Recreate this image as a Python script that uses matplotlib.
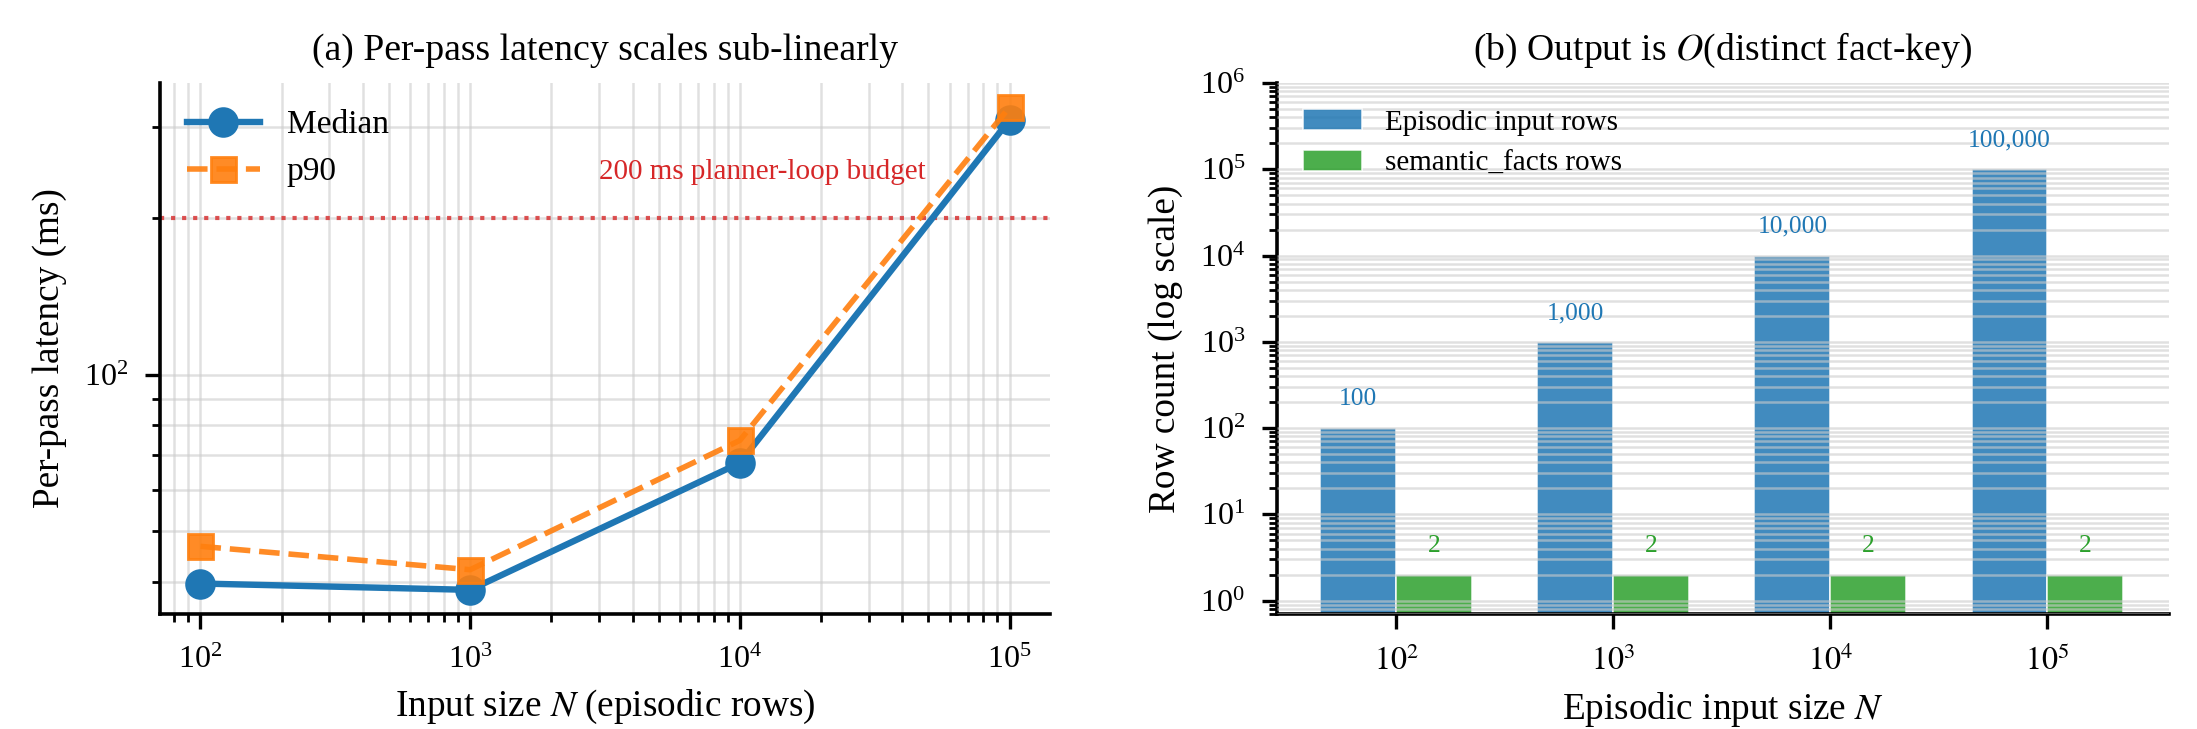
import numpy as np
import matplotlib
matplotlib.use("Agg")
import matplotlib.pyplot as plt
from matplotlib.ticker import LogLocator, NullFormatter

plt.rcParams['font.family'] = ['Liberation Serif', 'DejaVu Serif']
plt.rcParams['mathtext.fontset'] = 'stix'
plt.rcParams['axes.linewidth'] = 1.3

# data
sizes = [100, 1000, 10000, 100000]
median_ms = [39.7, 38.6, 67.7, 309]
p90_ms = [46.8, 42.2, 74.8, 327]
budget_ms = 200

episodic_rows = [100, 1000, 10000, 100000]
fact_rows = [2, 2, 2, 2]
size_labels = [r'$10^{2}$', r'$10^{3}$', r'$10^{4}$', r'$10^{5}$']

blue = '#1f77b4'
orange = '#ff7f0e'
green = '#2ca02c'
red = '#d62728'

fig = plt.figure(figsize=(10.985, 3.645), dpi=200)
ax1 = fig.add_axes([160 / 2197, 1 - 614 / 729, 890 / 2197, 531 / 729])
ax2 = fig.add_axes([1277 / 2197, 1 - 614 / 729, 892 / 2197, 531 / 729])

# (a) latency
ax1.plot(sizes, median_ms, '-o', color=blue, lw=2.3, ms=10, label='Median', zorder=3)
ax1.plot(sizes, p90_ms, '--s', color=orange, lw=2.0, ms=9, alpha=0.9, label='p90', zorder=3)
ax1.axhline(budget_ms, color=red, ls=':', lw=1.5, alpha=0.8)
ax1.text(3000, 232, '200 ms planner-loop budget', color=red, fontsize=10.5,
         ha='left', va='bottom')
ax1.set_xscale('log')
ax1.set_yscale('log')
ax1.grid(True, which='both', color='#cccccc', alpha=0.6, lw=0.9)
ax1.set_xlabel(r'Input size $N$ (episodic rows)', fontsize=13.4, labelpad=4.5)
ax1.set_ylabel('Per-pass latency (ms)', fontsize=13.4, labelpad=6)
ax1.set_title('(a) Per-pass latency scales sub-linearly', fontsize=13.6, pad=8.5)
ax1.tick_params(axis='both', which='major', labelsize=11.5, length=5.5, width=1.2, pad=6)
ax1.tick_params(axis='both', which='minor', length=3, width=1.0)
ax1.yaxis.set_minor_formatter(NullFormatter())
ax1.legend(loc='upper left', frameon=False, fontsize=12, handlelength=2.2,
           borderaxespad=0.4)
for s in ['top', 'right']:
    ax1.spines[s].set_visible(False)

# (b) output size
x = np.arange(len(sizes))
w = 0.35
ax2.set_yscale('log')
ax2.bar(x - w / 2, episodic_rows, w, color=blue, alpha=0.85, edgecolor='white',
        lw=0.6, label='Episodic input rows', zorder=2)
ax2.bar(x + w / 2, fact_rows, w, color=green, alpha=0.85, edgecolor='white',
        lw=0.6, label='semantic_facts rows', zorder=2)
for i in range(len(x)):
    ax2.text(x[i] - w / 2, episodic_rows[i] * 1.6, f'{episodic_rows[i]:,}',
             color=blue, ha='center', va='bottom', fontsize=9.2)
    ax2.text(x[i] + w / 2, fact_rows[i] * 1.6, f'{fact_rows[i]:,}',
             color=green, ha='center', va='bottom', fontsize=9.2)
ax2.set_ylim(0.7, 1e6)
ax2.set_xlim(-0.55, 3.56)
ax2.set_xticks(x)
ax2.set_xticklabels(size_labels)
ax2.set_yticks([10.0 ** k for k in range(7)])
ax2.yaxis.set_minor_locator(LogLocator(base=10, subs=np.arange(2, 10), numticks=20))
ax2.yaxis.set_minor_formatter(NullFormatter())
ax2.set_ylim(0.7, 1e6)
ax2.grid(True, axis='y', which='both', color='#cccccc', alpha=0.6, lw=0.9, zorder=3)
ax2.set_axisbelow(False)
ax2.set_xlabel(r'Episodic input size $N$', fontsize=13.4, labelpad=4.5)
ax2.set_ylabel('Row count (log scale)', fontsize=13.4, labelpad=6)
ax2.set_title(r'(b) Output is $O$(distinct fact-key)', fontsize=13.6, pad=8.5)
ax2.tick_params(axis='both', which='major', labelsize=11.5, length=5.5, width=1.2, pad=6)
ax2.tick_params(axis='both', which='minor', length=3, width=1.0)
ax2.legend(loc='upper left', frameon=False, fontsize=10.5, handlelength=2.0)
for s in ['top', 'right']:
    ax2.spines[s].set_visible(False)

fig.savefig('out.png', dpi=200)
